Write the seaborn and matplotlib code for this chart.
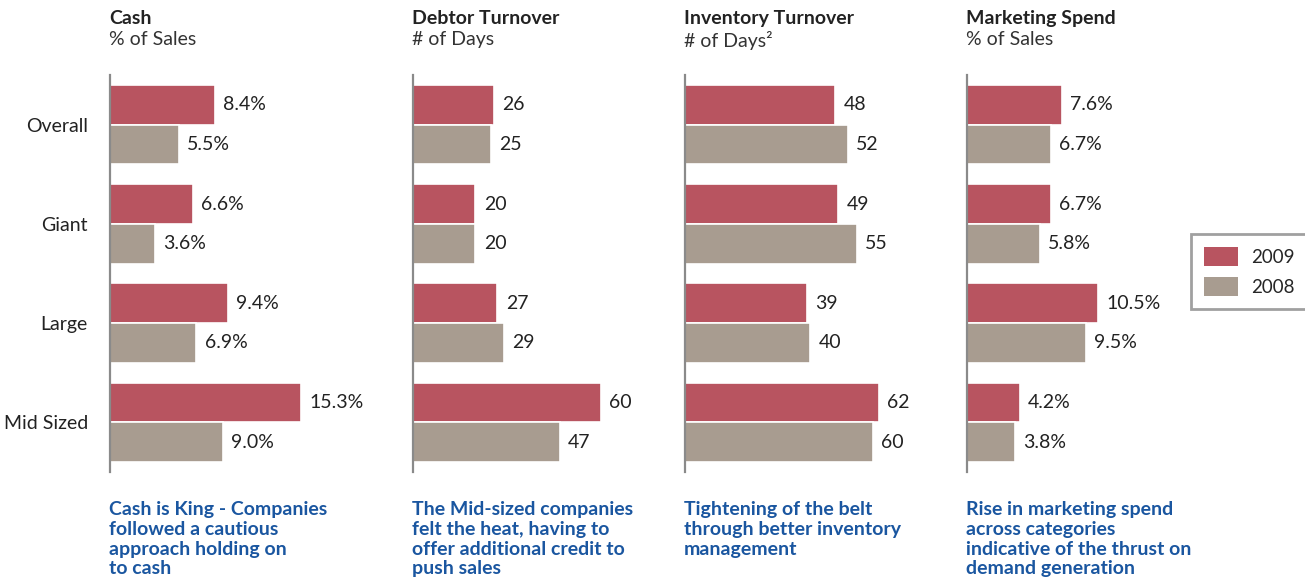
import pandas as pd
import matplotlib.pyplot as plt
import seaborn as sns
from matplotlib.patches import Patch

sns.set_style("white")
plt.rcParams['font.family'] = ['Lato', 'DejaVu Sans']

# data
categories = ["Overall", "Giant", "Large", "Mid Sized"]
years = ["2009", "2008"]

cash_2009 = [8.4, 6.6, 9.4, 15.3]
cash_2008 = [5.5, 3.6, 6.9, 9.0]
debtor_2009 = [26, 20, 27, 60]
debtor_2008 = [25, 20, 29, 47]
inventory_2009 = [48, 49, 39, 62]
inventory_2008 = [52, 55, 40, 60]
marketing_2009 = [7.6, 6.7, 10.5, 4.2]
marketing_2008 = [6.7, 5.8, 9.5, 3.8]

titles = ["Cash", "Debtor Turnover", "Inventory Turnover", "Marketing Spend"]
subtitles = ["% of Sales", "# of Days", "# of Days\u00b2", "% of Sales"]
captions = [
    "Cash is King - Companies\nfollowed a cautious\napproach holding on\nto cash",
    "The Mid-sized companies\nfelt the heat, having to\noffer additional credit to\npush sales",
    "Tightening of the belt\nthrough better inventory\nmanagement",
    "Rise in marketing spend\nacross categories\nindicative of the thrust on\ndemand generation",
]
panels = [
    (cash_2009, cash_2008, "pct"),
    (debtor_2009, debtor_2008, "int"),
    (inventory_2009, inventory_2008, "int"),
    (marketing_2009, marketing_2008, "pct"),
]

red = "#B85460"
grey = "#A89C90"
blue = "#1A56A0"
pal = {"2009": red, "2008": grey}

W, H = 1305, 584
fig = plt.figure(figsize=(W / 100, H / 100), dpi=100)

lefts = [110, 413, 685, 967]
for i, (v09, v08, kind) in enumerate(panels):
    df = pd.DataFrame({
        "category": categories * 2,
        "year": ["2009"] * 4 + ["2008"] * 4,
        "value": list(v09) + list(v08),
    })
    ax = fig.add_axes([lefts[i] / W, (H - 472) / H, 250 / W, 397 / H])
    ax.patch.set_alpha(0)
    sns.barplot(data=df, y="category", x="value", hue="year", hue_order=years,
                palette=pal, orient="h", width=0.8, edgecolor="white",
                linewidth=1.2, saturation=1, legend=False, ax=ax)
    ax.set_xlim(0, 20 if kind == "pct" else 80)
    ax.set_ylim(3.5, -0.5)
    ax.set_xlabel("")
    ax.set_ylabel("")
    ax.set_xticks([])
    for cont in ax.containers:
        if kind == "pct":
            labs = [f"{b.get_width():.1f}%" for b in cont]
        else:
            labs = [f"{b.get_width():.0f}" for b in cont]
        ax.bar_label(cont, labels=labs, padding=6, fontsize=14, color="#222222")
    sns.despine(ax=ax, top=True, right=True, bottom=True, left=False)
    ax.spines["left"].set_color("#8A8A8A")
    ax.spines["left"].set_linewidth(1.6)
    if i == 0:
        ax.tick_params(axis="y", length=0, pad=16, labelsize=14, labelcolor="#222222")
    else:
        ax.tick_params(axis="y", length=0, labelleft=False)

    x0 = (lefts[i] - 1) / W
    fig.text(x0, 1 - 10 / H, titles[i], fontsize=14, fontweight="bold",
             color="#222222", va="top", ha="left")
    fig.text(x0, 1 - 31 / H, subtitles[i], fontsize=14, color="#333333",
             va="top", ha="left")
    fig.text(x0, 1 - 501 / H, captions[i], fontsize=14, fontweight="bold",
             color=blue, va="top", ha="left", linespacing=1.2)

handles = [Patch(facecolor=pal[y], edgecolor="none", label=y) for y in years]
leg = fig.legend(handles=handles, loc="center",
                 bbox_to_anchor=((1196 + 1303) / 2 / W, 1 - (228 + 315) / 2 / H),
                 fontsize=13.5, frameon=True, fancybox=False, handlelength=1.8,
                 handleheight=1.2, borderpad=0.7, labelspacing=0.6,
                 handletextpad=0.7, borderaxespad=0)
leg.get_frame().set_edgecolor("#888888")
leg.get_frame().set_linewidth(2)

fig.savefig("out.png", dpi=100)
